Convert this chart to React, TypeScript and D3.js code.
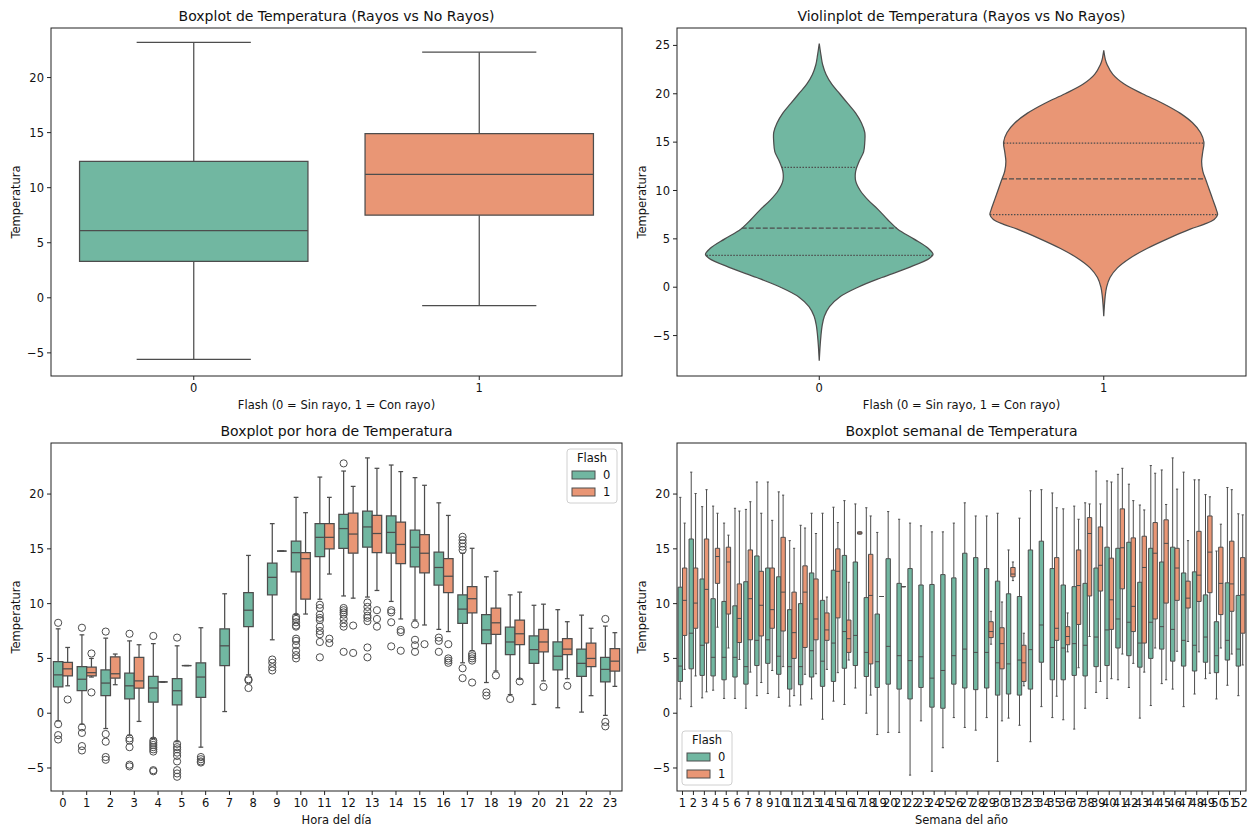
import React, { useRef, useEffect } from "react";
import * as d3 from "d3";

// ---- datos ----
// cajas: [bigote inf, q1, mediana, q3, bigote sup]
const flashLabels = ["0", "1"];
const tempSinRayo = [-5.6, 3.3, 6.1, 12.4, 23.2];
const tempConRayo = [-0.7, 7.5, 11.2, 14.9, 22.3];

// perfil del violín: temperatura y ancho relativo
const violinTemp0 = [-7.6, -6, -5, -4, -3, -2, -1, 0, 1, 2, 3, 3.4, 4, 5, 6, 7, 8, 9, 10, 11, 12, 13, 14, 15, 16, 17, 18, 19, 20, 21, 22, 23, 24, 25.2];
const violinAncho0 = [0, 0.008, 0.015, 0.025, 0.045, 0.09, 0.18, 0.34, 0.55, 0.78, 0.97, 1.0, 0.96, 0.83, 0.69, 0.6, 0.52, 0.43, 0.36, 0.32, 0.32, 0.35, 0.39, 0.4, 0.4, 0.37, 0.32, 0.25, 0.18, 0.11, 0.06, 0.03, 0.015, 0];
const violinTemp1 = [-3, -2, -1, 0, 1, 2, 3, 4, 5, 6, 6.5, 7, 7.5, 8, 9, 10, 11, 12, 13, 14, 15, 16, 17, 18, 19, 20, 21, 22, 23, 23.5, 24.5];
const violinAncho1 = [0, 0.005, 0.012, 0.025, 0.055, 0.12, 0.23, 0.38, 0.56, 0.76, 0.88, 0.97, 1.0, 0.99, 0.96, 0.93, 0.9, 0.87, 0.86, 0.87, 0.88, 0.85, 0.78, 0.67, 0.52, 0.34, 0.18, 0.08, 0.03, 0.015, 0];
const violinCuartiles0 = [3.3, 6.1, 12.4];
const violinCuartiles1 = [7.5, 11.2, 14.9];

const horas = ["0", "1", "2", "3", "4", "5", "6", "7", "8", "9", "10", "11", "12", "13", "14", "15", "16", "17", "18", "19", "20", "21", "22", "23"];
const horaSinRayo = [
  [-0.7, 2.4, 3.5, 4.7, 7.7], [-1.0, 2.05, 3.1, 4.25, 7.15], [-1.4, 1.6, 2.75, 3.95, 6.85], [-2.0, 1.3, 2.5, 3.65, 6.6],
  [-2.3, 1.0, 2.3, 3.35, 6.35], [-2.6, 0.75, 2.05, 3.15, 6.15], [-3.1, 1.45, 3.3, 4.6, 7.8], [0.15, 4.35, 6.15, 7.7, 10.9],
  [3.5, 7.9, 9.4, 11.0, 14.4], [6.7, 10.8, 12.4, 13.7, 17.3], [9.0, 12.9, 14.65, 15.7, 19.7], [10.4, 14.3, 16.05, 17.3, 21.55],
  [10.7, 15.05, 16.85, 18.15, 22.1], [10.6, 15.15, 17.0, 18.45, 23.3], [10.2, 14.6, 16.5, 18.0, 22.65], [8.5, 13.35, 15.15, 16.7, 21.5],
  [7.65, 11.7, 13.3, 14.7, 19.2], [4.6, 8.2, 9.5, 10.8, 14.6], [2.8, 6.35, 7.6, 9.0, 12.45], [1.7, 5.35, 6.5, 7.85, 10.8],
  [0.8, 4.55, 5.8, 7.05, 9.85], [0.5, 3.95, 5.2, 6.5, 9.45], [0.1, 3.35, 4.55, 5.85, 8.95], [-0.2, 2.85, 4.0, 5.1, 7.95],
];
const horaSinRayoAtipicos = [
  [8.25, -1.0, -2.0, -2.4], [7.8, -1.3, -1.8, -3.0, -3.4], [7.45, -1.9, -2.6, -4.0, -4.25], [7.25, -2.3, -2.5, -3.1, -4.7, -4.85],
  [7.05, -2.5, -2.7, -2.9, -3.1, -3.3, -3.5, -5.2, -5.3], [6.9, -2.8, -3.1, -3.3, -3.6, -3.9, -4.4, -5.2, -5.5, -5.8],
  [-4.0, -4.2, -4.4, -4.5], [], [3.1, 3.0, 2.3], [4.9, 4.6, 4.2, 3.9],
  [8.8, 8.6, 8.3, 8.0, 7.9, 6.8, 6.6, 6.2, 5.7, 5.3, 5.0], [9.9, 9.6, 9.0, 8.7, 8.5, 7.9, 7.5, 7.2, 6.5, 5.1],
  [22.8, 9.6, 9.4, 9.2, 9.0, 8.6, 8.2, 7.9, 5.6], [10.1, 9.7, 9.3, 8.9, 8.7, 8.4, 6.0, 5.1], [9.4, 9.2, 8.3, 6.1],
  [8.1, 6.7, 6.2, 5.6], [6.9, 6.6, 5.6], [16.1, 15.8, 15.5, 15.2, 14.9, 4.1, 3.2], [1.9, 1.6], [1.3], [], [], [], [8.6, -0.8, -1.2],
];
const horaConRayo = [
  [2.5, 3.4, 4.05, 4.65, 6.0], [3.3, 3.4, 3.7, 4.2, 5.0], [2.6, 3.2, 3.6, 5.15, 5.4], [-0.75, 2.3, 2.95, 5.1, 6.25],
  [2.85, 2.85, 2.85, 2.85, 2.85], [4.35, 4.35, 4.35, 4.35, 4.35], null, null,
  null, [14.8, 14.8, 14.8, 14.8, 14.8], [9.05, 10.4, 14.1, 14.65, 18.3], [12.7, 15.0, 16.05, 17.3, 19.7],
  [10.5, 14.6, 16.35, 18.25, 20.7], [11.2, 14.65, 16.4, 18.05, 22.35], [8.6, 13.65, 15.4, 17.45, 22.05], [8.05, 12.8, 14.6, 16.3, 20.8],
  [7.45, 11.0, 12.5, 14.1, 18.05], [5.7, 9.15, 10.45, 11.55, 15.05], [3.85, 7.2, 8.25, 9.6, 12.95], [3.1, 6.25, 7.25, 8.5, 11.05],
  [2.95, 5.6, 6.5, 7.65, 9.95], [3.15, 5.35, 5.85, 6.8, 8.35], [1.6, 4.25, 5.0, 6.4, 7.75], [2.45, 3.85, 4.75, 5.9, 7.35],
];
const horaConRayoAtipicos = [
  [1.25], [5.45, 1.9], [], [], [], [], [], [], [], [], [], [6.8, 6.4],
  [8.0, 5.5], [9.4, 8.6, 7.9], [7.6, 7.4, 5.7], [6.3], [6.3, 5.0, 4.8, 4.6], [5.4, 5.2, 5.0, 4.8, 2.8],
  [3.45], [2.9], [2.4], [2.5], [], [],
];

const semanas = ["1", "2", "3", "4", "5", "6", "7", "8", "9", "10", "11", "12", "13", "14", "15", "16", "17", "18", "19", "20", "21", "22", "23", "24", "25", "26",
  "27", "28", "29", "30", "31", "32", "33", "34", "35", "36", "37", "38", "39", "40", "41", "42", "43", "44", "45", "46", "47", "48", "49", "50", "51", "52"];
const semanaSinRayo = [
  [1.3, 2.9, 4.3, 11.5, 19.7], [0.6, 4.05, 7.3, 15.9, 22.0], [1.4, 3.45, 6.2, 12.25, 18.85], [2.1, 3.4, 5.1, 10.45, 18.9],
  [1.35, 3.05, 5.1, 10.2, 17.35], [1.35, 3.3, 5.1, 9.8, 18.7], [0.45, 2.65, 4.25, 12.0, 18.6], [1.6, 4.35, 6.65, 14.35, 21.1],
  [1.8, 4.55, 6.7, 13.25, 21.1], [1.45, 3.55, 5.2, 12.45, 20.2], [0.65, 2.2, 4.25, 9.45, 15.75], [0.75, 2.6, 4.25, 10.0, 17.15],
  [1.3, 3.3, 5.7, 12.8, 18.25], [-0.55, 2.45, 4.75, 10.3, 18.25], [1.1, 2.9, 6.4, 13.05, 18.8], [0.8, 4.1, 7.45, 14.4, 19.4],
  [2.3, 4.35, 7.1, 13.8, 19.1], [0.0, 3.35, 5.55, 10.55, 18.75], [-1.95, 2.35, 4.7, 9.05, 16.5], [-1.75, 2.65, 6.1, 14.1, 18.4],
  [-1.75, 2.2, 5.25, 11.85, 17.7], [-5.65, 1.3, 4.8, 13.2, 17.35], [-0.7, 2.35, 5.15, 11.7, 17.1], [-5.3, 0.55, 3.2, 11.75, 16.55],
  [-3.15, 0.45, 3.9, 12.65, 16.55], [-0.4, 2.65, 5.25, 12.35, 17.35], [-1.3, 2.3, 5.85, 14.6, 19.2], [-1.55, 2.15, 5.55, 14.2, 18.0],
  [-0.4, 2.3, 5.55, 13.2, 18.0], [-4.4, 1.65, 4.6, 12.05, 18.25], [-0.45, 1.75, 4.5, 10.9, 14.9], [-1.1, 1.65, 4.85, 10.65, 17.8],
  [-2.6, 2.2, 5.8, 14.9, 20.3], [0.6, 4.65, 8.05, 15.7, 20.4], [-0.4, 3.05, 6.0, 13.2, 20.1], [-0.6, 3.05, 5.95, 11.7, 18.65],
  [-1.45, 3.45, 6.35, 11.55, 18.9], [0.45, 3.4, 6.2, 11.85, 19.2], [1.9, 4.25, 6.95, 13.25, 22.1], [1.35, 4.35, 7.6, 15.15, 21.2],
  [3.05, 5.95, 8.6, 15.05, 21.8], [2.35, 5.25, 8.3, 15.6, 20.9], [-0.45, 4.2, 6.4, 11.95, 19.0], [0.7, 5.0, 8.3, 15.05, 22.6],
  [2.7, 5.85, 7.9, 13.8, 22.2], [2.2, 4.75, 7.65, 15.15, 23.3], [0.6, 4.3, 6.65, 12.8, 22.0], [1.75, 3.85, 6.2, 12.9, 21.3],
  [3.15, 4.65, 6.95, 10.8, 19.95], [1.3, 3.7, 5.25, 8.35, 14.8], [2.55, 4.85, 6.65, 11.9, 20.6], [1.6, 4.3, 5.85, 10.75, 18.2],
];
const semanaConRayo = [
  [4.0, 7.1, 10.3, 13.25, 17.35], [3.4, 7.75, 10.05, 13.25, 20.05], [1.95, 6.4, 11.3, 15.9, 20.4], [7.85, 11.85, 14.3, 15.05, 18.25],
  [5.95, 9.05, 13.8, 15.15, 16.25], [4.9, 6.45, 8.65, 11.8, 18.45], [3.75, 6.7, 10.45, 14.9, 19.3], [2.8, 7.05, 9.85, 12.95, 18.25],
  [3.9, 7.75, 9.45, 13.25, 17.6], [4.25, 7.5, 11.05, 16.05, 19.9], [1.6, 5.0, 7.35, 11.05, 15.05], [3.55, 6.0, 11.05, 13.45, 16.9],
  [3.6, 6.7, 8.6, 12.25, 16.4], [4.0, 6.65, 7.6, 9.15, 10.6], [3.7, 8.7, 12.95, 15.0, 17.4], [4.85, 5.55, 6.8, 8.5, 11.95],
  [16.35, 16.35, 16.45, 16.55, 16.55], [1.65, 4.5, 10.75, 14.5, 18.0], [10.65, 10.65, 10.65, 10.65, 10.65], null,
  [11.55, 11.55, 11.55, 11.55, 11.55], null, null, null,
  null, null, null, null,
  [6.3, 6.9, 7.45, 8.35, 9.3], [-0.7, 4.05, 6.35, 7.8, 10.15], [12.1, 12.45, 12.7, 13.3, 13.8], [2.5, 2.9, 4.6, 6.2, 7.3],
  null, null, [1.55, 6.65, 7.75, 14.2, 18.75], [5.6, 6.25, 7.0, 7.9, 9.15],
  [4.15, 8.1, 11.65, 14.9, 17.7], [7.0, 10.7, 16.4, 17.85, 19.1], [2.9, 11.15, 13.5, 17.0, 19.1], [3.15, 7.65, 10.35, 14.15, 21.1],
  [5.4, 11.35, 15.1, 18.65, 22.35], [4.55, 7.45, 9.75, 16.0, 19.4], [3.75, 6.4, 13.3, 16.15, 18.55], [5.95, 8.6, 14.6, 17.4, 21.9],
  [3.05, 10.05, 15.5, 17.65, 19.05], [5.65, 10.3, 13.25, 15.05, 20.45], [6.55, 9.6, 10.5, 12.05, 15.75], [5.6, 10.2, 12.6, 16.6, 21.3],
  [3.65, 11.0, 14.7, 18.0, 19.75], [5.95, 9.0, 11.85, 15.15, 17.25], [5.4, 9.3, 11.8, 15.7, 20.4], [4.4, 7.3, 10.8, 14.2, 18.1],
];

const W = 1252;
const H = 833;
const GREEN = "#71b7a1";
const ORANGE = "#e99675";
const LINE = "#4d4d4d";
const FONT = "'DejaVu Sans', sans-serif";
const FS_TICK = 11.5;
const FS_TITLE = 14;

const P = {
  tl: { l: 51, r: 622, t: 28, b: 376 },
  tr: { l: 677, r: 1246, t: 28, b: 376 },
  bl: { l: 51, r: 622, t: 443, b: 791 },
  br: { l: 677, r: 1246, t: 443, b: 791 },
};

const fmt = (v: number) => (v < 0 ? "\u2212" + Math.abs(v) : String(v));

function drawBox(g: any, x: any, y: any, c: number, w: number, s: number[], color: string, lw = 1.25) {
  const [lo, q1, med, q3, hi] = s;
  const xl = x(c - w / 2), xr = x(c + w / 2), xc = x(c);
  const cap = (xr - xl) / 4;
  const st = (sel: any) => sel.attr("stroke", LINE).attr("stroke-width", lw).attr("fill", "none");
  st(g.append("line").attr("x1", xc).attr("x2", xc).attr("y1", y(q3)).attr("y2", y(hi)));
  st(g.append("line").attr("x1", xc).attr("x2", xc).attr("y1", y(q1)).attr("y2", y(lo)));
  st(g.append("line").attr("x1", xc - cap).attr("x2", xc + cap).attr("y1", y(hi)).attr("y2", y(hi)));
  st(g.append("line").attr("x1", xc - cap).attr("x2", xc + cap).attr("y1", y(lo)).attr("y2", y(lo)));
  g.append("path")
    .attr("d", `M${xl},${y(q3)}H${xr}V${y(q1)}H${xl}Z`)
    .attr("fill", color).attr("stroke", LINE).attr("stroke-width", lw);
  st(g.append("line").attr("x1", xl).attr("x2", xr).attr("y1", y(med)).attr("y2", y(med)));
}

function frame(svg: any, p: any, y: any, yTicks: number[], xTicks: [number, string][], x: any,
  title: string, xLabel: string, yLabel: string) {
  const g = svg.append("g").attr("font-family", FONT).attr("fill", "#111");
  g.append("rect").attr("x", p.l).attr("y", p.t).attr("width", p.r - p.l).attr("height", p.b - p.t)
    .attr("fill", "none").attr("stroke", "#222").attr("stroke-width", 1);
  yTicks.forEach(t => {
    g.append("line").attr("x1", p.l - 4).attr("x2", p.l).attr("y1", y(t)).attr("y2", y(t)).attr("stroke", "#222");
    g.append("text").attr("x", p.l - 7).attr("y", y(t)).attr("dy", "0.35em").attr("text-anchor", "end")
      .attr("font-size", FS_TICK).text(fmt(t));
  });
  xTicks.forEach(([v, lab]) => {
    g.append("line").attr("x1", x(v)).attr("x2", x(v)).attr("y1", p.b).attr("y2", p.b + 4).attr("stroke", "#222");
    g.append("text").attr("x", x(v)).attr("y", p.b + 16).attr("text-anchor", "middle").attr("font-size", FS_TICK).text(lab);
  });
  g.append("text").attr("x", (p.l + p.r) / 2).attr("y", p.t - 7).attr("text-anchor", "middle")
    .attr("font-size", FS_TITLE).text(title);
  g.append("text").attr("x", (p.l + p.r) / 2).attr("y", p.b + 33).attr("text-anchor", "middle")
    .attr("font-size", FS_TICK).text(xLabel);
  g.append("text").attr("transform", `translate(${p.l - 31},${(p.t + p.b) / 2}) rotate(-90)`)
    .attr("text-anchor", "middle").attr("font-size", FS_TICK).text(yLabel);
}

function legend(svg: any, lx: number, ly: number) {
  const g = svg.append("g").attr("font-family", FONT).attr("font-size", FS_TICK).attr("fill", "#111");
  g.append("rect").attr("x", lx).attr("y", ly).attr("width", 50).attr("height", 54).attr("rx", 3)
    .attr("fill", "#fff").attr("fill-opacity", 0.8).attr("stroke", "#d0d0d0");
  g.append("text").attr("x", lx + 25).attr("y", ly + 13).attr("text-anchor", "middle").text("Flash");
  [GREEN, ORANGE].forEach((c, i) => {
    g.append("rect").attr("x", lx + 5).attr("y", ly + 22 + i * 17).attr("width", 23).attr("height", 8)
      .attr("fill", c).attr("stroke", LINE).attr("stroke-width", 1);
    g.append("text").attr("x", lx + 36).attr("y", ly + 30 + i * 17).text(flashLabels[i]);
  });
}

export default function App() {
  const ref = useRef<SVGSVGElement>(null);

  useEffect(() => {
    const svg = d3.select(ref.current);
    svg.selectAll("*").remove();

    // --- boxplot general ---
    {
      const p = P.tl;
      const x = d3.scaleLinear().domain([-0.5, 1.5]).range([p.l, p.r]);
      const y = d3.scaleLinear().domain([-7.1, 24.5]).range([p.b, p.t]);
      const g = svg.append("g");
      drawBox(g, x, y, 0, 0.8, tempSinRayo, GREEN);
      drawBox(g, x, y, 1, 0.8, tempConRayo, ORANGE);
      frame(svg, p, y, [-5, 0, 5, 10, 15, 20], [[0, "0"], [1, "1"]], x,
        "Boxplot de Temperatura (Rayos vs No Rayos)", "Flash (0 = Sin rayo, 1 = Con rayo)", "Temperatura");
    }

    // --- violin ---
    {
      const p = P.tr;
      const x = d3.scaleLinear().domain([-0.5, 1.5]).range([p.l, p.r]);
      const y = d3.scaleLinear().domain([-9.18, 26.8]).range([p.b, p.t]);
      const g = svg.append("g");
      const sets = [
        { c: 0, t: violinTemp0, a: violinAncho0, q: violinCuartiles0, col: GREEN },
        { c: 1, t: violinTemp1, a: violinAncho1, q: violinCuartiles1, col: ORANGE },
      ];
      sets.forEach(s => {
        const pts = s.t.map((t, i) => [t, s.a[i]] as [number, number]);
        const area = d3.area<[number, number]>()
          .y(d => y(d[0]))
          .x0(d => x(s.c - d[1] * 0.4))
          .x1(d => x(s.c + d[1] * 0.4))
          .curve(d3.curveCatmullRom);
        g.append("path").attr("d", area(pts)).attr("fill", s.col).attr("stroke", LINE).attr("stroke-width", 1.25);
        const wAt = d3.scaleLinear().domain(s.t).range(s.a);
        s.q.forEach((q, i) => {
          const hw = wAt(q) * 0.4;
          g.append("line").attr("x1", x(s.c - hw)).attr("x2", x(s.c + hw)).attr("y1", y(q)).attr("y2", y(q))
            .attr("stroke", LINE).attr("stroke-width", 1.25)
            .attr("stroke-dasharray", i === 1 ? "5,2" : "1.5,1.5");
        });
      });
      frame(svg, p, y, [-5, 0, 5, 10, 15, 20, 25], [[0, "0"], [1, "1"]], x,
        "Violinplot de Temperatura (Rayos vs No Rayos)", "Flash (0 = Sin rayo, 1 = Con rayo)", "Temperatura");
    }

    // --- por hora ---
    {
      const p = P.bl;
      const x = d3.scaleLinear().domain([-0.5, horas.length - 0.5]).range([p.l, p.r]);
      const y = d3.scaleLinear().domain([-7.1, 24.66]).range([p.b, p.t]);
      const g = svg.append("g");
      horas.forEach((_, i) => {
        drawBox(g, x, y, i - 0.2, 0.4, horaSinRayo[i], GREEN);
        horaSinRayoAtipicos[i].forEach(v =>
          g.append("circle").attr("cx", x(i - 0.2)).attr("cy", y(v)).attr("r", 3.6)
            .attr("fill", "none").attr("stroke", LINE).attr("stroke-width", 1));
        const o = horaConRayo[i];
        if (o) drawBox(g, x, y, i + 0.2, 0.4, o, ORANGE);
        horaConRayoAtipicos[i].forEach(v =>
          g.append("circle").attr("cx", x(i + 0.2)).attr("cy", y(v)).attr("r", 3.6)
            .attr("fill", "none").attr("stroke", LINE).attr("stroke-width", 1));
      });
      frame(svg, p, y, [-5, 0, 5, 10, 15, 20], horas.map((h, i) => [i, h] as [number, string]), x,
        "Boxplot por hora de Temperatura", "Hora del día", "Temperatura");
      legend(svg, p.r - 55, p.t + 6);
    }

    // --- semanal ---
    {
      const p = P.br;
      const x = d3.scaleLinear().domain([0.5, semanas.length + 0.5]).range([p.l, p.r]);
      const y = d3.scaleLinear().domain([-7.1, 24.66]).range([p.b, p.t]);
      const g = svg.append("g");
      semanas.forEach((_, i) => {
        const c = i + 1;
        drawBox(g, x, y, c - 0.2, 0.4, semanaSinRayo[i], GREEN, 1);
        const o = semanaConRayo[i];
        if (o) drawBox(g, x, y, c + 0.2, 0.4, o, ORANGE, 1);
      });
      frame(svg, p, y, [-5, 0, 5, 10, 15, 20], semanas.map((s, i) => [i + 1, s] as [number, string]), x,
        "Boxplot semanal de Temperatura", "Semana del año", "Temperatura");
      legend(svg, p.l + 5, p.b - 60);
    }
  }, []);

  return (
    <svg ref={ref} width={W} height={H}
      style={{ position: "absolute", left: 0, top: 0, background: "#fff" }} />
  );
}
